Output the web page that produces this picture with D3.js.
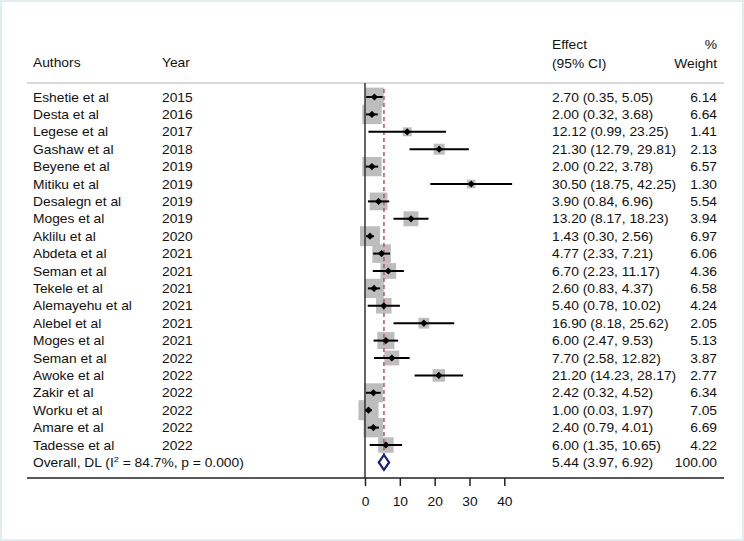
<!DOCTYPE html>
<html><head><meta charset="utf-8">
<script src="https://cdn.jsdelivr.net/npm/d3@7"></script>
<style>body{margin:0;background:#fff}svg{display:block}text{font-family:"Liberation Sans",Arial,sans-serif;fill:#111}</style>
</head><body><svg id="c" width="744" height="541"></svg>
<script>
const authors = ["Eshetie et al","Desta et al","Legese et al","Gashaw et al","Beyene et al","Mitiku et al","Desalegn et al","Moges et al","Aklilu et al","Abdeta et al","Seman et al","Tekele et al","Alemayehu et al","Alebel et al","Moges et al","Seman et al","Awoke et al","Zakir et al","Worku et al","Amare et al","Tadesse et al"];
const years = [2015,2016,2017,2018,2019,2019,2019,2019,2020,2021,2021,2021,2021,2021,2021,2022,2022,2022,2022,2022,2022];
const effects = [2.70,2.00,12.12,21.30,2.00,30.50,3.90,13.20,1.43,4.77,6.70,2.60,5.40,16.90,6.00,7.70,21.20,2.42,1.00,2.40,6.00];
const lower = [0.35,0.32,0.99,12.79,0.22,18.75,0.84,8.17,0.30,2.33,2.23,0.83,0.78,8.18,2.47,2.58,14.23,0.32,0.03,0.79,1.35];
const upper = [5.05,3.68,23.25,29.81,3.78,42.25,6.96,18.23,2.56,7.21,11.17,4.37,10.02,25.62,9.53,12.82,28.17,4.52,1.97,4.01,10.65];
const weights = [6.14,6.64,1.41,2.13,6.57,1.30,5.54,3.94,6.97,6.06,4.36,6.58,4.24,2.05,5.13,3.87,2.77,6.34,7.05,6.69,4.22];
const overall = {es:5.44, lo:3.97, hi:6.92, w:100.00, label:"Overall, DL (I", i2:"84.7%", p:"0.000"};
const xTicks = [0,10,20,30,40];

const svg = d3.select("#c");
const FS = 12, SX = 1.15;
function txt(x, y, s, anchor, g) {
  return (g||svg).append("text")
    .attr("transform", `translate(${x},${y}) scale(${SX},1)`)
    .attr("text-anchor", anchor||"start")
    .style("font-size", FS+"px")
    .text(s);
}

// faint frame
svg.append("rect").attr("x",1).attr("y",1).attr("width",742).attr("height",539)
  .attr("fill","none").attr("stroke","#e4eded").attr("stroke-width",2);

const x = d3.scaleLinear().domain([0,40]).range([365,504.3]);
const nRows = authors.length + 1;
const y = d3.scalePoint().domain(d3.range(nRows)).range([97,462.4]);

const L = 27, R = 724, topLine = 83, axisY = 478;
const colAuth = 33, colYear = 162, colEff = 552, colW = 717;

// header
txt(colAuth, 67, "Authors");
txt(colYear, 67, "Year");
txt(colEff, 49, "Effect");
txt(colEff, 68, "(95% CI)");
txt(colW, 49, "%", "end");
txt(colW, 68, "Weight", "end");
svg.append("line").attr("x1",L).attr("x2",R).attr("y1",topLine).attr("y2",topLine)
  .attr("stroke","#b4b4b4").attr("stroke-width",1.2);

// boxes
const k = 20/Math.sqrt(7.05);
const rows = authors.map((a,i)=>({a, yr:years[i], es:effects[i], lo:lower[i], hi:upper[i], w:weights[i], i}));
svg.append("g").selectAll("rect").data(rows).join("rect")
  .attr("x", d=>x(d.es)-k*Math.sqrt(d.w)/2)
  .attr("y", d=>y(d.i)-k*Math.sqrt(d.w)/2)
  .attr("width", d=>k*Math.sqrt(d.w))
  .attr("height", d=>k*Math.sqrt(d.w))
  .attr("fill","#bdbdbd");

// zero line
svg.append("line").attr("x1",x(0)).attr("x2",x(0)).attr("y1",topLine).attr("y2",axisY)
  .attr("stroke","#333").attr("stroke-width",1.5);

// overall dashed
svg.append("line").attr("x1",x(overall.es)).attr("x2",x(overall.es)).attr("y1",89).attr("y2",469)
  .attr("stroke","#b25563").attr("stroke-width",1.5).attr("stroke-dasharray","4,3");

// CIs
svg.append("g").selectAll("line").data(rows).join("line")
  .attr("x1", d=>x(d.lo)).attr("x2", d=>x(d.hi))
  .attr("y1", d=>y(d.i)).attr("y2", d=>y(d.i))
  .attr("stroke","#000").attr("stroke-width",2);
// point diamonds
svg.append("g").selectAll("path").data(rows).join("path")
  .attr("d", d=>{const cx=x(d.es), cy=y(d.i), r=3.6; return `M${cx-r},${cy}L${cx},${cy-r}L${cx+r},${cy}L${cx},${cy+r}Z`;})
  .attr("fill","#000");

// overall diamond
{
  const cy = y(nRows-1), h = 7.5;
  svg.append("path")
    .attr("d", `M${x(overall.lo)},${cy}L${x(overall.es)},${cy-h}L${x(overall.hi)},${cy}L${x(overall.es)},${cy+h}Z`)
    .attr("fill","#fff").attr("stroke","#1c1c80").attr("stroke-width",2.2);
}

// row text
rows.forEach(d=>{
  const yy = y(d.i)+4.5;
  txt(colAuth, yy, d.a);
  txt(colYear, yy, String(d.yr));
  txt(colEff, yy, `${d.es.toFixed(2)} (${d.lo.toFixed(2)}, ${d.hi.toFixed(2)})`);
  txt(colW, yy, d.w.toFixed(2), "end");
});
{
  const yy = y(nRows-1)+4.5;
  const t = txt(colAuth, yy, "");
  t.append("tspan").text(overall.label);
  t.append("tspan").attr("dy",-5).style("font-size","8px").text("2");
  t.append("tspan").attr("dy",5).text(` = ${overall.i2}, p = ${overall.p})`);
  txt(colEff, yy, `${overall.es.toFixed(2)} (${overall.lo.toFixed(2)}, ${overall.hi.toFixed(2)})`);
  txt(colW, yy, overall.w.toFixed(2), "end");
}

// axis
svg.append("line").attr("x1",L).attr("x2",R).attr("y1",axisY).attr("y2",axisY)
  .attr("stroke","#222").attr("stroke-width",1.5);
const ax = svg.append("g").attr("transform",`translate(0,${axisY})`)
  .attr("font-size", FS)
  .call(d3.axisBottom(x).tickValues(xTicks).tickSize(8).tickSizeOuter(0).tickPadding(11));
ax.attr("font-size", FS).attr("font-family",'"Liberation Sans",Arial,sans-serif');
ax.select(".domain").remove();
ax.selectAll(".tick line").attr("stroke","#222").attr("stroke-width",1.5);
ax.selectAll(".tick text").style("font-size",FS+"px").attr("fill","#111")
  .attr("text-anchor","middle").attr("transform",`scale(${SX},1)`);
</script></body></html>
